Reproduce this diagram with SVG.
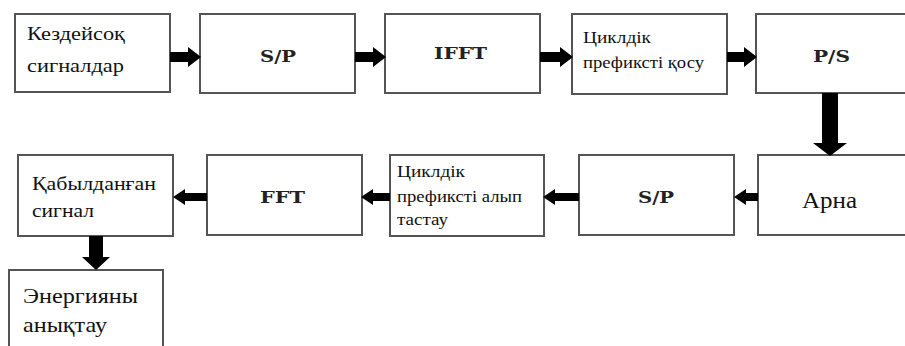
<svg xmlns="http://www.w3.org/2000/svg" width="905" height="346" viewBox="0 0 905 346">
<style>
.box{fill:#fff;stroke:#555;stroke-width:2}
.t{font-family:"Liberation Serif","DejaVu Serif",serif;fill:#111}
.b{font-family:"DejaVu Serif","Liberation Serif",serif;font-weight:bold;font-size:16px;fill:#222}
.arr{fill:#000}
</style>
<rect width="905" height="346" fill="#fff"/>
<g id="n1"><rect class="box" x="15" y="14" width="155" height="78"/>
<text class="t" font-size="18" x="27" y="40" textLength="98" lengthAdjust="spacingAndGlyphs">Кездейсоқ</text>
<text class="t" font-size="18" x="27" y="72" textLength="97" lengthAdjust="spacingAndGlyphs">сигналдар</text></g>
<g id="n2"><rect class="box" x="200" y="14" width="155" height="79"/>
<text class="b" x="260" y="62" textLength="36" lengthAdjust="spacingAndGlyphs">S/P</text></g>
<g id="n3"><rect class="box" x="385" y="14" width="155" height="79"/>
<text class="b" x="434" y="59" textLength="53" lengthAdjust="spacingAndGlyphs">IFFT</text></g>
<g id="n4"><rect class="box" x="572" y="14" width="155" height="80"/>
<text class="t" font-size="16" x="583" y="43" textLength="68" lengthAdjust="spacingAndGlyphs">Циклдік</text>
<text class="t" font-size="16" x="583" y="68" textLength="121" lengthAdjust="spacingAndGlyphs">префиксті қосу</text></g>
<g id="n5"><rect class="box" x="756" y="14" width="160" height="79"/>
<text class="b" x="813" y="62" textLength="37" lengthAdjust="spacingAndGlyphs">P/S</text></g>
<g id="n6"><rect class="box" x="758" y="155" width="160" height="80"/>
<text class="t" font-size="24" x="802" y="208" textLength="55" lengthAdjust="spacingAndGlyphs">Арна</text></g>
<g id="n7"><rect class="box" x="579" y="155" width="155" height="80"/>
<text class="b" x="638" y="203" textLength="36" lengthAdjust="spacingAndGlyphs">S/P</text></g>
<g id="n8"><rect class="box" x="390" y="155" width="154" height="81"/>
<text class="t" font-size="16" x="397" y="177" textLength="68" lengthAdjust="spacingAndGlyphs">Циклдік</text>
<text class="t" font-size="16" x="397" y="202" textLength="125" lengthAdjust="spacingAndGlyphs">префиксті алып</text>
<text class="t" font-size="16" x="397" y="225" textLength="51" lengthAdjust="spacingAndGlyphs">тастау</text></g>
<g id="n9"><rect class="box" x="207" y="155" width="155" height="80"/>
<text class="b" x="260" y="203" textLength="45" lengthAdjust="spacingAndGlyphs">FFT</text></g>
<g id="n10"><rect class="box" x="18" y="155" width="155" height="81"/>
<text class="t" font-size="19" x="32" y="190" textLength="124" lengthAdjust="spacingAndGlyphs">Қабылданған</text>
<text class="t" font-size="19" x="32" y="217" textLength="62" lengthAdjust="spacingAndGlyphs">сигнал</text></g>
<g id="n11"><rect class="box" x="9" y="270" width="154" height="90"/>
<text class="t" font-size="22" x="23" y="303" textLength="115" lengthAdjust="spacingAndGlyphs">Энергияны</text>
<text class="t" font-size="22" x="23" y="332" textLength="84" lengthAdjust="spacingAndGlyphs">анықтау</text></g>
<g id="connectors">
<polygon class="arr" points="170,52 188,52 188,47 201,57 188,67 188,62 170,62"/>
<polygon class="arr" points="355,52 373,52 373,47 386,57 373,67 373,62 355,62"/>
<polygon class="arr" points="540,52 560,52 560,47 573,57 560,67 560,62 540,62"/>
<polygon class="arr" points="727,52 744,52 744,47 757,57 744,67 744,62 727,62"/>
<polygon class="arr" points="822,93 838,93 838,143 847,143 830,156 813,143 822,143"/>
<polygon class="arr" points="758,193 746,193 746,189 734,197 746,205 746,201 758,201"/>
<polygon class="arr" points="579,193 555,193 555,189 543,197 555,205 555,201 579,201"/>
<polygon class="arr" points="390,193 373,193 373,189 361,197 373,205 373,201 390,201"/>
<polygon class="arr" points="207,193 185,193 185,189 173,197 185,205 185,201 207,201"/>
<polygon class="arr" points="89,236 103,236 103,257 110,257 96,270 82,257 89,257"/>
</g>
</svg>
